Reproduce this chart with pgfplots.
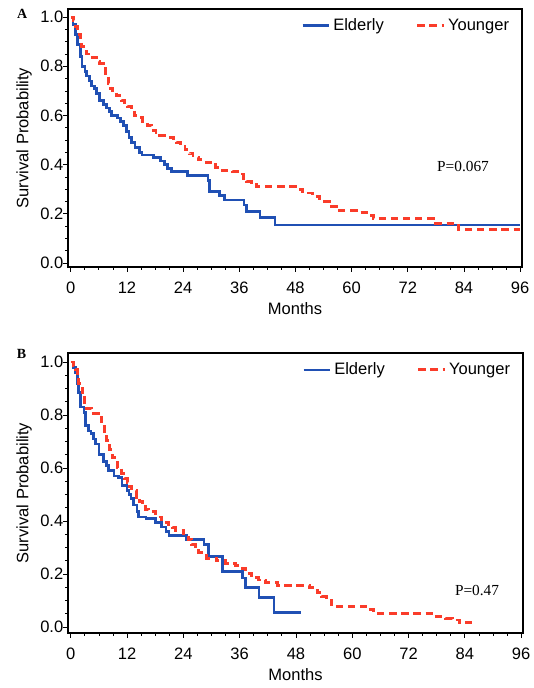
\documentclass[border=0pt]{standalone}
\usepackage{pgfplots}
\pgfplotsset{compat=1.18}
\usepackage{fontspec}
\setmainfont{Liberation Sans}
\newfontfamily\timesfont{Liberation Serif}

\definecolor{eldblue}{RGB}{32,80,180}
\definecolor{youred}{RGB}{250,60,42}

\pgfplotsset{
  kmaxis/.style={
    scale only axis,
    anchor=north west,
    clip=false,
    xmin=-0.6, xmax=96.4,
    xtick={0,12,24,36,48,60,72,84,96},
    minor x tick num=3,
    ytick={0,0.2,0.4,0.6,0.8,1},
    minor y tick num=3,
    tick align=outside,
    xtick pos=left, ytick pos=left,
    major tick length=3.5pt, minor tick length=2pt,
    axis line style={line width=1.1pt},
    every tick/.style={black, line width=0.6pt},
    /pgf/number format/assume math mode=true,
    tick label style={font=\fontsize{12.4}{14}\selectfont},
    xticklabel style={yshift=-4pt},
    yticklabel style={xshift=3.5pt, /pgf/number format/.cd, fixed, fixed zerofill, precision=1},
    label style={font=\fontsize{12.4}{14}\selectfont},
    xlabel={Months},
    ylabel={Survival Probability},
    xlabel style={at={(axis description cs:0.5,0)}, anchor=center, yshift=-31.5pt},
    ylabel style={at={(axis description cs:0,0.5)}, anchor=center, yshift=33pt},
    legend columns=2,
    legend style={draw=none, fill=none, inner sep=0pt,
      at={(axis description cs:0.978,0.975)}, anchor=north east,
      font=\fontsize{12.4}{14}\selectfont,
      /tikz/every even column/.style={column sep=22pt}},
    legend image code/.code={\draw[#1] (0pt,0pt) -- (20pt,0pt);},
  },
  eld/.style={const plot, no marks, color=eldblue, line width=2pt},
  yng/.style={const plot, no marks, color=youred, line width=2.2pt, dash pattern=on 5.5pt off 3.6pt},
}

\begin{document}
\begin{tikzpicture}
\path[use as bounding box] (0,0) rectangle (400.5pt,-516pt);

% panel A
\begin{axis}[kmaxis, at={(51pt,-6.75pt)}, width=340.5pt, height=193.5pt,
  ymin=-0.016, ymax=1.033]
\addplot[eld] coordinates {
  (0,1.0) (0.5,0.97) (1.0,0.93) (1.5,0.89) (2.0,0.84) (2.4,0.80) (3.0,0.78)
  (3.4,0.76) (4.0,0.74) (4.4,0.72) (5.0,0.71) (5.5,0.69) (6.2,0.66) (7.0,0.645)
  (7.6,0.63) (8.2,0.615) (8.7,0.60) (10.0,0.59) (10.6,0.575) (11.2,0.56)
  (11.9,0.535) (12.4,0.51) (13.0,0.49) (13.7,0.47) (14.7,0.45) (15.2,0.44)
  (17.6,0.43) (19.2,0.415) (20.0,0.40) (20.6,0.385) (21.5,0.372) (25.0,0.355)
  (29.3,0.335) (29.7,0.29) (31.8,0.276) (32.9,0.256) (37.0,0.236) (37.6,0.21)
  (40.4,0.185) (43.6,0.155) (96,0.155)
};
\addlegendentry{Elderly}
\addplot[yng] coordinates {
  (0,1.0) (0.5,0.985) (0.9,0.96) (1.5,0.93) (2.0,0.90) (2.3,0.88) (2.8,0.86)
  (3.4,0.85) (4.7,0.835) (5.5,0.82) (6.2,0.81) (6.9,0.79) (7.4,0.76) (8.0,0.73)
  (8.5,0.71) (9.0,0.695) (9.8,0.68) (10.9,0.66) (11.5,0.645) (12.2,0.635)
  (13.0,0.62) (13.7,0.60) (14.5,0.59) (15.4,0.575) (16.3,0.56) (17.3,0.54)
  (18.2,0.53) (19.0,0.52) (21.2,0.51) (22.0,0.50) (22.6,0.49) (23.5,0.475)
  (24.4,0.46) (25.3,0.445) (26.1,0.43) (27.2,0.42) (28.2,0.41) (30.3,0.40)
  (31.0,0.39) (31.8,0.378) (34.6,0.372) (36.1,0.362) (36.8,0.345) (37.6,0.33)
  (38.6,0.32) (39.7,0.31) (48.0,0.30) (49.6,0.285) (51.7,0.27) (53.2,0.25)
  (55.3,0.23) (56.8,0.212) (61.5,0.205) (63.2,0.195) (64.6,0.18) (77.4,0.16)
  (82.8,0.136) (96,0.136)
};
\addlegendentry{Younger}
\node[font=\timesfont\fontsize{11.5}{13}\selectfont] at (axis cs:83.8,0.394) {P=0.067};
\node[font=\timesfont\bfseries\fontsize{10.5}{12}\selectfont] at (axis description cs:-0.101,0.981) {A};
\end{axis}

% panel B
\begin{axis}[kmaxis, at={(51pt,-264.75pt)}, width=341.25pt, height=210pt,
  ymin=-0.023, ymax=1.034]
\addplot[eld] coordinates {
  (0,1.0) (0.5,0.98) (1.0,0.96) (1.4,0.92) (1.7,0.885) (2.1,0.83) (2.8,0.81)
  (3.2,0.76) (3.8,0.74) (4.3,0.73) (4.8,0.71) (5.3,0.69) (6.0,0.65) (7.0,0.625)
  (7.6,0.61) (8.1,0.59) (9.2,0.57) (10.2,0.565) (10.9,0.535) (12.0,0.515)
  (12.4,0.50) (12.8,0.485) (13.4,0.46) (14.1,0.435) (14.5,0.415) (16.0,0.41)
  (18.1,0.395) (19.4,0.377) (20.3,0.36) (20.9,0.345) (24.7,0.33) (28.4,0.31)
  (29.4,0.265) (32.4,0.21) (36.6,0.185) (37.3,0.15) (40.1,0.11) (43.3,0.055)
  (49.0,0.055)
};
\addlegendentry{Elderly}
\addplot[yng] coordinates {
  (0,1.0) (0.5,0.985) (1.0,0.97) (1.4,0.945) (1.7,0.92) (2.4,0.87) (3.0,0.84)
  (3.4,0.825) (4.5,0.805) (6.0,0.79) (6.6,0.755) (7.2,0.73) (7.7,0.705)
  (8.3,0.67) (8.8,0.64) (9.4,0.62) (9.9,0.60) (10.9,0.58) (11.5,0.56)
  (12.0,0.545) (12.5,0.53) (13.0,0.515) (14.1,0.49) (14.7,0.475) (15.2,0.46)
  (16.0,0.445) (16.6,0.435) (18.1,0.415) (19.4,0.395) (20.9,0.385) (21.7,0.375)
  (22.4,0.365) (24.1,0.345) (25.0,0.33) (25.8,0.31) (26.5,0.295) (27.3,0.28)
  (29.0,0.26) (31.1,0.25) (33.0,0.24) (35.2,0.232) (36.5,0.22) (37.3,0.203)
  (38.6,0.185) (40.0,0.177) (41.6,0.168) (44.0,0.157) (50.8,0.148) (52.5,0.13)
  (53.5,0.115) (54.6,0.10) (55.5,0.085) (56.5,0.077) (62.9,0.064) (64.6,0.049)
  (77.0,0.038) (79.9,0.033) (81.3,0.026) (82.8,0.016) (85.6,0.016)
};
\addlegendentry{Younger}
\node[font=\timesfont\fontsize{11.5}{13}\selectfont] at (axis cs:86.6,0.136) {P=0.47};
\node[font=\timesfont\bfseries\fontsize{10.5}{12}\selectfont] at (axis description cs:-0.102,0.996) {B};
\end{axis}
\end{tikzpicture}
\end{document}
